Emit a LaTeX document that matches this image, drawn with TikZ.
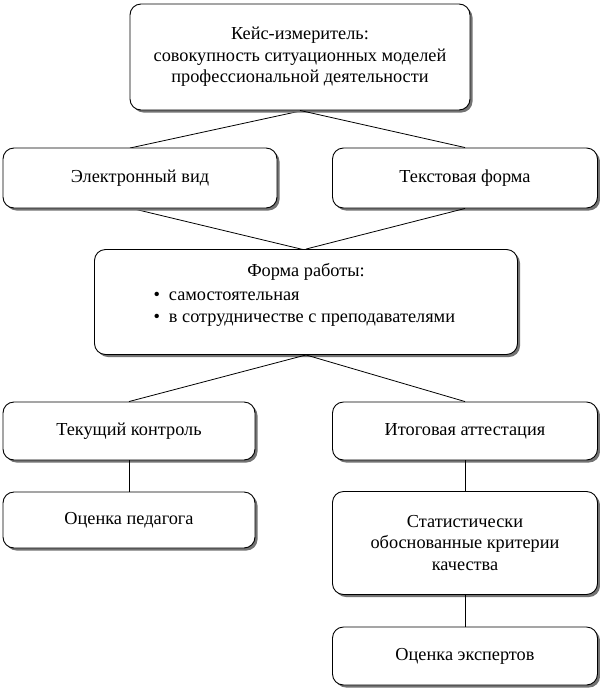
\documentclass[tikz,border=0pt]{standalone}
\usepackage{fontspec}
\setmainfont{Liberation Serif}
\usetikzlibrary{shadows}
\begin{document}
\begin{tikzpicture}[x=1pt,y=-1pt,
  bx/.style={draw,line width=0.9pt,rounded corners=11pt,fill=white,
    drop shadow={shadow xshift=2.5pt,shadow yshift=-2.5pt,fill=black!55,opacity=1},
    font=\fontsize{18.3}{21.5}\selectfont,align=center,inner sep=0pt},
  tx/.style={font=\fontsize{18.3}{21.5}\selectfont},
  ln/.style={line width=0.8pt}]
\useasboundingbox (0,0) rectangle (600,694);
\coordinate (elt) at (130,148);
\coordinate (elb) at (130,208);
\draw[ln] (elt) -- (305,110);
\draw[ln] (elb) -- (305,250);
\node[bx,minimum width=340pt,minimum height=106pt] (top) at (300,57) {Кейс-измеритель:\\совокупность ситуационных моделей\\профессиональной деятельности};
\node[bx,minimum width=274pt,minimum height=60pt] (el) at (140,178) {Электронный вид};
\node[bx,minimum width=265pt,minimum height=60pt] (tf) at (465,178) {Текстовая форма};
\node[bx,minimum width=423pt,minimum height=105pt] (fr) at (306,302) {};
\node[tx] (frt) at (306,272) {Форма работы:};
\node[tx,anchor=west] (b1) at (150,296) {\textbullet\hspace{9pt}самостоятельная};
\node[tx,anchor=west] (b2) at (150,320) {\textbullet\hspace{9pt}в сотрудничестве с преподавателями};
\node[bx,minimum width=252pt,minimum height=58pt] (tk) at (129,431) {Текущий контроль};
\node[bx,minimum width=265pt,minimum height=58pt] (it) at (465,431) {Итоговая аттестация};
\node[bx,minimum width=252pt,minimum height=56pt] (op) at (129,520) {Оценка педагога};
\node[bx,minimum width=265pt,minimum height=103pt] (st) at (465,543) {Статистически\\обоснованные критерии\\качества};
\node[bx,minimum width=265pt,minimum height=58pt] (ex) at (465,656) {Оценка экспертов};
\draw[ln] (top.south) -- (tf.north);
\draw[ln] (tf.south) -- (fr.north);
\draw[ln] (fr.south) -- (tk.north);
\draw[ln] (fr.south) -- (it.north);
\draw[ln] (tk.south) -- (op.north);
\draw[ln] (it.south) -- (st.north);
\draw[ln] (st.south) -- (ex.north);
\end{tikzpicture}
\end{document}
